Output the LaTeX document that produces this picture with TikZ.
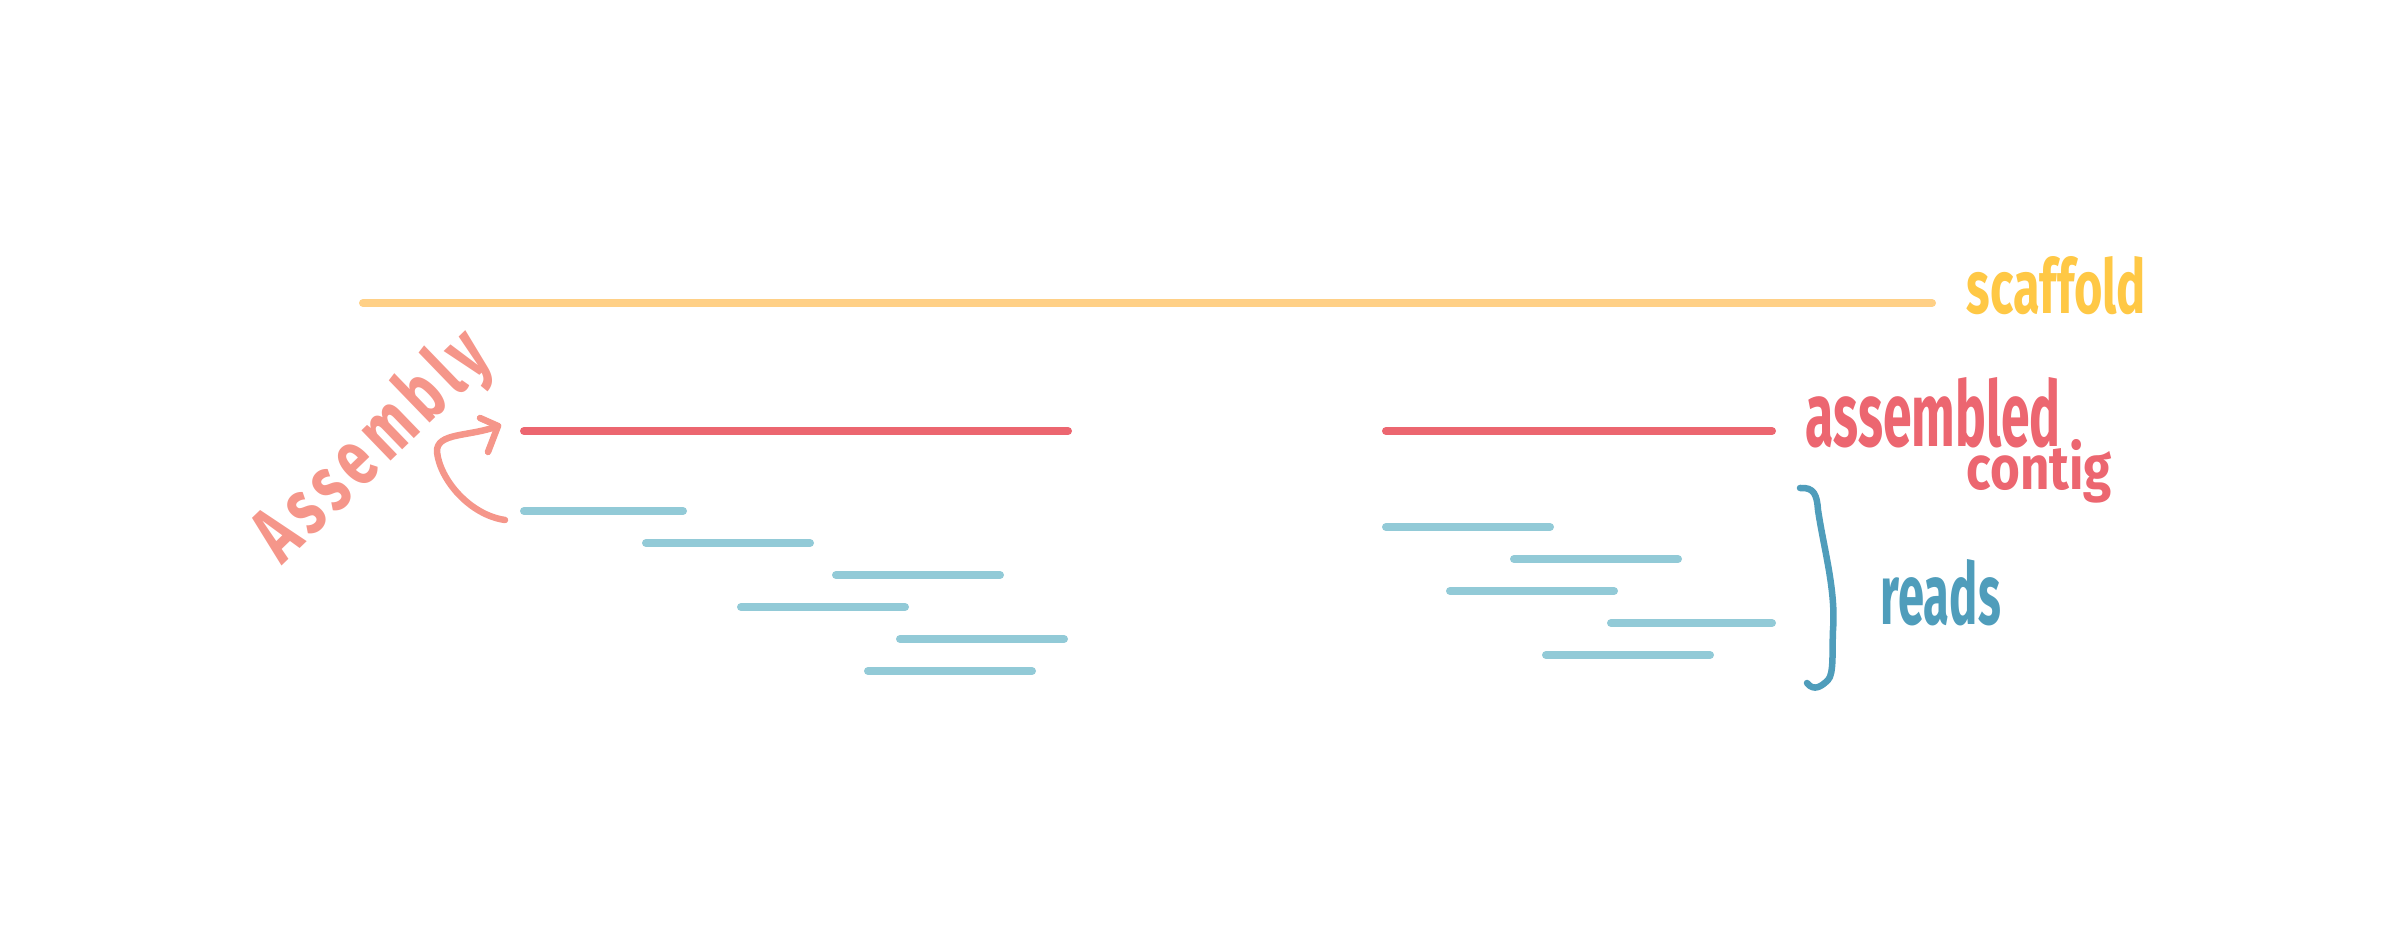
\documentclass[tikz,border=0pt]{standalone}
\usepackage{fontspec}
\setmainfont{Fira Sans}
\usepackage{graphicx}
\definecolor{scafline}{HTML}{FFD086}
\definecolor{scaftext}{HTML}{FFC845}
\definecolor{contigred}{HTML}{EC6670}
\definecolor{asmpink}{HTML}{F5968A}
\definecolor{readline}{HTML}{92CAD7}
\definecolor{readtext}{HTML}{4F9DBB}
\newcommand{\hw}[3]{\resizebox{#1}{#2}{\bfseries #3}}
\begin{document}
\begin{tikzpicture}[x=0.01cm,y=-0.01cm,
  bar/.style={line width=0.08cm,line cap=round},
  scafbar/.style={bar,scafline},
  contigbar/.style={bar,contigred},
  readbar/.style={bar,readline},
  hand/.style={line width=0.065cm,line cap=round,line join=round},
  lbl/.style={inner sep=0pt,anchor=base west}]
\useasboundingbox (0,0) rectangle (2402,949);
% scaffold
\coordinate (s1) at (363,303); \coordinate (s2) at (1932,303);
\draw[scafbar] (s1) -- (s2);
\node[lbl,text=scaftext] (scaf) at (1966,314) {\hw{1.79cm}{0.57cm}{scaffold}};
% contigs
\coordinate (c1a) at (524,431); \coordinate (c1b) at (1068,431);
\coordinate (c2a) at (1386,431); \coordinate (c2b) at (1772,431);
\draw[contigbar] (c1a) -- (c1b);
\draw[contigbar] (c2a) -- (c2b);
\node[lbl,text=contigred] (asm) at (1805,447) {\hw{2.55cm}{0.69cm}{assembled}};
\node[lbl,text=contigred] (ctg) at (1966,490) {\hw{1.45cm}{0.5cm}{contig}};
% reads left
\foreach \a/\b/\y [count=\i] in {524/683/511, 646/810/543, 836/1000/575, 741/905/607, 900/1064/639, 868/1032/671}{
  \coordinate (la\i) at (\a,\y); \coordinate (lb\i) at (\b,\y);
  \draw[readbar] (la\i) -- (lb\i);
}
% reads right
\foreach \a/\b/\y [count=\i] in {1386/1550/527, 1514/1678/559, 1450/1614/591, 1611/1772/623, 1546/1710/655}{
  \coordinate (ra\i) at (\a,\y); \coordinate (rb\i) at (\b,\y);
  \draw[readbar] (ra\i) -- (rb\i);
}
% brace
\coordinate (brT) at (1800,488); \coordinate (brB) at (1807,683);
\draw[hand,readtext] (brT) .. controls (1814,487) and (1817,495) .. (1818,510)
  .. controls (1824,550) and (1836,590) .. (1833,630)
  .. controls (1832,652) and (1834,674) .. (1828,680)
  .. controls (1822,686) and (1814,692) .. (brB);
\node[lbl,text=readtext] (reads) at (1880,625) {\hw{1.2cm}{0.65cm}{reads}};
% Assembly
\node[inner sep=0pt,text=asmpink,rotate=44] (asmb) at (374,448) {\resizebox{2.95cm}{0.6cm}{\bfseries\addfontfeature{LetterSpace=12}Assembly}};
\coordinate (arS) at (505,520); \coordinate (arT) at (498,426);
\draw[hand,asmpink] (arS) .. controls (470,515) and (440,480) .. (437,452)
  .. controls (436,432) and (470,437) .. (arT);
\draw[hand,asmpink] (arT) ++(-18,-8) -- (arT) -- ++(-10,26);
\end{tikzpicture}
\end{document}
